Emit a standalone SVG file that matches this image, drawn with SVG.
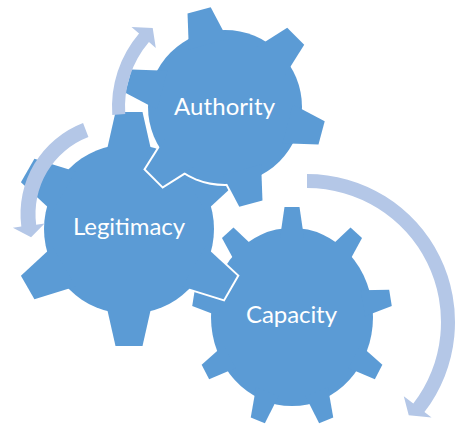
<svg xmlns="http://www.w3.org/2000/svg" xmlns:xlink="http://www.w3.org/1999/xlink" width="463" height="425" viewBox="0 0 463 425">
  <style>
    .out { fill: #FFFFFF; stroke: #FFFFFF; stroke-width: 4; stroke-linejoin: miter; }
    .gear { fill: #5B9BD5; stroke: none; }
    .arrow { fill: #B4C7E7; stroke: none; }
    .label { fill: #FFFFFF; font-family: Lato, "Open Sans", "Liberation Sans", sans-serif; font-size: 24px; text-anchor: middle; }
  </style>
  <defs>
    <polygon id="toothA" points="-12,-100 12,-100 20,-65 -20,-65"/>
    <polygon id="toothL" points="-13.5,-117 13.5,-117 23,-75 -23,-75"/>
    <polygon id="toothC" points="-7.5,-100 7.5,-100 12,-72 -12,-72"/>
    <g id="shapeA">
      <circle cx="0" cy="0" r="77"/>
      <use xlink:href="#toothA" href="#toothA" transform="rotate(-75)"/>
      <use xlink:href="#toothA" href="#toothA" transform="rotate(-15)"/>
      <use xlink:href="#toothA" href="#toothA" transform="rotate(45)"/>
      <use xlink:href="#toothA" href="#toothA" transform="rotate(105)"/>
      <use xlink:href="#toothA" href="#toothA" transform="rotate(165)"/>
      <use xlink:href="#toothA" href="#toothA" transform="rotate(225)"/>
    </g>
    <g id="shapeL">
      <circle cx="0" cy="0" r="85"/>
      <use xlink:href="#toothL" href="#toothL" transform="rotate(0)"/>
      <use xlink:href="#toothL" href="#toothL" transform="rotate(60)"/>
      <use xlink:href="#toothL" href="#toothL" transform="rotate(120)"/>
      <use xlink:href="#toothL" href="#toothL" transform="rotate(180)"/>
      <use xlink:href="#toothL" href="#toothL" transform="rotate(240)"/>
      <use xlink:href="#toothL" href="#toothL" transform="rotate(300)"/>
    </g>
    <g id="shapeC">
      <circle cx="0" cy="0" r="81"/>
      <use xlink:href="#toothC" href="#toothC" transform="rotate(0)"/>
      <use xlink:href="#toothC" href="#toothC" transform="rotate(40)"/>
      <use xlink:href="#toothC" href="#toothC" transform="rotate(80)"/>
      <use xlink:href="#toothC" href="#toothC" transform="rotate(120)"/>
      <use xlink:href="#toothC" href="#toothC" transform="rotate(160)"/>
      <use xlink:href="#toothC" href="#toothC" transform="rotate(200)"/>
      <use xlink:href="#toothC" href="#toothC" transform="rotate(240)"/>
      <use xlink:href="#toothC" href="#toothC" transform="rotate(280)"/>
      <use xlink:href="#toothC" href="#toothC" transform="rotate(320)"/>
    </g>
  </defs>

  <g id="capacity">
    <g transform="translate(292,317) scale(1,1.1)">
      <use xlink:href="#shapeC" href="#shapeC" class="out"/>
      <use xlink:href="#shapeC" href="#shapeC" class="gear"/>
    </g>
    <text class="label" x="291.5" y="323" textLength="91">Capacity</text>
  </g>

  <g id="legitimacy">
    <g transform="translate(129,229)">
      <use xlink:href="#shapeL" href="#shapeL" class="out"/>
      <use xlink:href="#shapeL" href="#shapeL" class="gear"/>
    </g>
    <text class="label" x="129" y="235" textLength="112">Legitimacy</text>
  </g>

  <g id="authority">
    <g transform="translate(225,107)">
      <use xlink:href="#shapeA" href="#shapeA" class="out"/>
      <use xlink:href="#shapeA" href="#shapeA" class="gear"/>
    </g>
    <text class="label" x="224.5" y="115" textLength="101">Authority</text>
  </g>

  <g id="connectors">
    <path class="arrow" d="M112.28,114.88 A113,113 0 0 1 139.07,33.61 L131.47,27.12 L152.71,28.11 L155.80,47.90 L148.96,42.05 A100,100 0 0 0 125.24,113.98 Z"/>
    <path class="arrow" d="M83.06,122.98 A97.5,97.5 0 0 0 21.31,226.56 L12.88,227.65 L31.07,237.29 L44.62,223.53 L36.19,224.63 A82.5,82.5 0 0 1 88.43,136.98 Z"/>
    <path class="arrow" d="M307,174 A148,148 0 0 1 424.42,412.10 L431.56,417.58 L408.74,415.23 L403.79,396.27 L413.31,403.57 A134,134 0 0 0 307,188 Z"/>
  </g>
</svg>
